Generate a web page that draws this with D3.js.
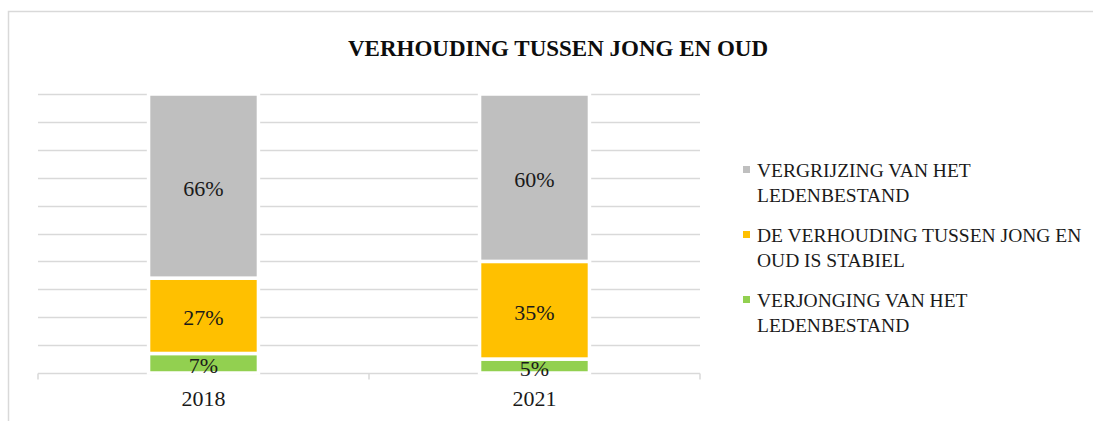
<!DOCTYPE html>
<html>
<head>
<meta charset="utf-8">
<script src="https://cdn.jsdelivr.net/npm/d3@7"></script>
<style>
  body { margin: 0; background: #fff; }
  svg { display: block; font-family: "Liberation Serif", "Times New Roman", serif; }
</style>
</head>
<body>
<svg></svg>
<script>
// chart data
var years = ["2018", "2021"];
var seriesKeys = ["verjonging", "stabiel", "vergrijzing"];
var seriesNames = {
  vergrijzing: ["VERGRIJZING VAN HET", "LEDENBESTAND"],
  stabiel: ["DE VERHOUDING TUSSEN JONG EN", "OUD IS STABIEL"],
  verjonging: ["VERJONGING VAN HET", "LEDENBESTAND"]
};
var verjonging = [0.07, 0.05];
var stabiel = [0.27, 0.35];
var vergrijzing = [0.66, 0.60];
var title = "VERHOUDING TUSSEN JONG EN OUD";

var colors = { vergrijzing: "#bfbfbf", stabiel: "#ffc000", verjonging: "#92d050" };
var legendOrder = ["vergrijzing", "stabiel", "verjonging"];

var width = 1093;
var height = 421;
// plot area (note: "top" is reserved on window, so use plot* names)
var plotLeft = 38, plotRight = 700, plotTop = 94, plotBottom = 373;

var rows = years.map((y, i) => ({
  year: y,
  verjonging: verjonging[i],
  stabiel: stabiel[i],
  vergrijzing: vergrijzing[i]
}));

var stacked = d3.stack().keys(seriesKeys)(rows);

var xScale = d3.scaleBand()
  .domain(years)
  .range([plotLeft, plotRight])
  .paddingInner(0.668)
  .paddingOuter(0.334);

var yScale = d3.scaleLinear()
  .domain([0, 1])
  .range([plotBottom, plotTop]);

var svg = d3.select("svg")
  .attr("width", width)
  .attr("height", height);

// outer chart border (runs off the picture at right and bottom)
svg.append("path")
  .attr("d", "M8.5," + (height + 5) + "V11.5H" + (width + 5))
  .attr("fill", "none")
  .attr("stroke", "#d9d9d9")
  .attr("stroke-width", 1.5);

svg.append("text")
  .attr("x", 558)
  .attr("y", 56)
  .attr("text-anchor", "middle")
  .attr("font-weight", "bold")
  .attr("font-size", 23)
  .attr("fill", "#0d0d0d")
  .text(title);

// gridlines
svg.append("g")
  .selectAll("line")
  .data(yScale.ticks(10).filter(d => d > 0))
  .enter()
  .append("line")
    .attr("x1", plotLeft)
    .attr("x2", plotRight)
    .attr("y1", d => Math.round(yScale(d)) + 0.5)
    .attr("y2", d => Math.round(yScale(d)) + 0.5)
    .attr("stroke", "#d9d9d9")
    .attr("stroke-width", 1.5);

// x axis
var xAxis = svg.append("g")
  .attr("transform", "translate(0," + (plotBottom + 0.5) + ")")
  .call(d3.axisBottom(xScale).tickSize(0).tickPadding(17));
xAxis.select(".domain").remove();
xAxis.selectAll("text")
  .attr("font-family", "Liberation Serif, serif")
  .attr("font-size", 22)
  .attr("fill", "#1a1a1a");
xAxis.append("line")
  .attr("x1", plotLeft).attr("x2", plotRight)
  .attr("stroke", "#d9d9d9").attr("stroke-width", 1.5);
xAxis.selectAll(".sep")
  .data([plotLeft, (plotLeft + plotRight) / 2, plotRight])
  .enter()
  .append("line")
    .attr("class", "sep")
    .attr("x1", d => d).attr("x2", d => d)
    .attr("y1", 0).attr("y2", 6)
    .attr("stroke", "#d9d9d9").attr("stroke-width", 1.5);

// bars
var layers = svg.append("g")
  .selectAll("g")
  .data(stacked)
  .enter()
  .append("g")
    .attr("fill", d => colors[d.key]);

layers.selectAll("rect")
  .data(d => d)
  .enter()
  .append("rect")
    .attr("x", d => xScale(d.data.year))
    .attr("y", d => yScale(d[1]))
    .attr("width", xScale.bandwidth())
    .attr("height", d => yScale(d[0]) - yScale(d[1]))
    .attr("stroke", "#fff")
    .attr("stroke-width", 3.5);

// data labels
layers.selectAll("text")
  .data(d => d)
  .enter()
  .append("text")
    .attr("x", d => xScale(d.data.year) + xScale.bandwidth() / 2)
    .attr("y", d => (yScale(d[0]) + yScale(d[1])) / 2 + 2)
    .attr("text-anchor", "middle")
    .attr("dominant-baseline", "central")
    .attr("font-size", 22)
    .attr("fill", "#1a1a1a")
    .text(d => Math.round((d[1] - d[0]) * 100) + "%");

// legend
var legend = svg.append("g")
  .selectAll("g")
  .data(legendOrder)
  .enter()
  .append("g")
    .attr("transform", (d, i) => "translate(743," + (177 + i * 65) + ")");

legend.append("rect")
  .attr("x", 0)
  .attr("y", -11)
  .attr("width", 7)
  .attr("height", 7)
  .attr("fill", d => colors[d]);

legend.append("text")
  .attr("x", 14)
  .attr("font-size", 19.5)
  .attr("fill", "#1a1a1a")
  .selectAll("tspan")
  .data(d => seriesNames[d])
  .enter()
  .append("tspan")
    .attr("x", 14)
    .attr("dy", (d, i) => i === 0 ? 0 : 24.5)
    .text(d => d);
</script>
</body>
</html>
